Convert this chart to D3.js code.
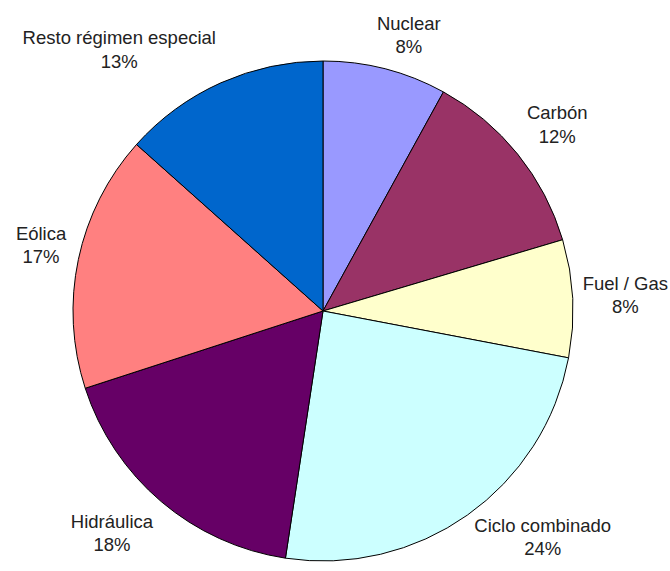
<!DOCTYPE html>
<html>
<head>
<meta charset="utf-8">
<script src="https://cdn.jsdelivr.net/npm/d3@7"></script>
<style>
  html, body { margin: 0; padding: 0; background: #fff; }
  svg { display: block; }
  text { font-family: "Liberation Sans", Arial, sans-serif; fill: #222; }
</style>
</head>
<body>
<svg id="chart" width="670" height="571"></svg>
<script>
// Generation mix by technology (share of total, %)
const categories = ["Nuclear", "Carbón", "Fuel / Gas", "Ciclo combinado", "Hidráulica", "Eólica", "Resto régimen especial"];
const shares = [8.0, 12.4, 7.6, 24.4, 17.6, 16.6, 13.4];
const colors = ["#9999FF", "#993366", "#FFFFCC", "#CCFFFF", "#660066", "#FF8080", "#0066CC"];

const W = 670, H = 571;
const cx = 323, cy = 311, r = 250;
const fontSize = 18.5, lineGap = 23.5;

const svg = d3.select("#chart");
const g = svg.append("g").attr("transform", `translate(${cx},${cy})`);

const pie = d3.pie().sort(null).value(d => d.v);
const data = categories.map((c, i) => ({ c, v: shares[i], color: colors[i] }));
const arcs = pie(data);
const total = d3.sum(shares);
const pct = d3.format(".0%");

const arc = d3.arc().innerRadius(0).outerRadius(r);

g.selectAll("path.slice")
  .data(arcs)
  .enter().append("path")
  .attr("class", "slice")
  .attr("d", arc)
  .attr("fill", d => d.data.color)
  .attr("stroke", "#000")
  .attr("stroke-width", 1)
  .attr("stroke-linejoin", "round");

// Labels: two lines (name, share) placed just outside the rim,
// with the box pushed away from the pie along the slice's mid-angle.
const clamp = (x) => Math.max(-1, Math.min(1, x));
const pad = 12, k = 2.6;

const labels = svg.append("g");
arcs.forEach(d => {
  const a = (d.startAngle + d.endAngle) / 2;
  const s = Math.sin(a), c = Math.cos(a);
  const t = labels.append("text")
    .attr("text-anchor", "middle")
    .style("font-size", fontSize + "px");
  t.append("tspan").attr("x", 0).attr("y", 0).text(d.data.c);
  t.append("tspan").attr("x", 0).attr("y", lineGap).text(pct(d.data.v / total));
  const bb = t.node().getBBox();
  const w = bb.width, h = bb.height;
  let mx = cx + (r + pad) * s + (w / 2) * clamp(k * s);
  let my = cy - (r + pad) * c - (h / 2) * clamp(k * c);
  // keep the label box inside the drawing
  mx = Math.max(w / 2 + 2, Math.min(W - w / 2 - 2, mx));
  my = Math.max(h / 2 + 2, Math.min(H - h / 2 - 12, my));
  // bb.y is the top of the first line relative to its baseline
  t.attr("transform", `translate(${mx},${my - h / 2 - bb.y})`);
});
</script>
</body>
</html>
